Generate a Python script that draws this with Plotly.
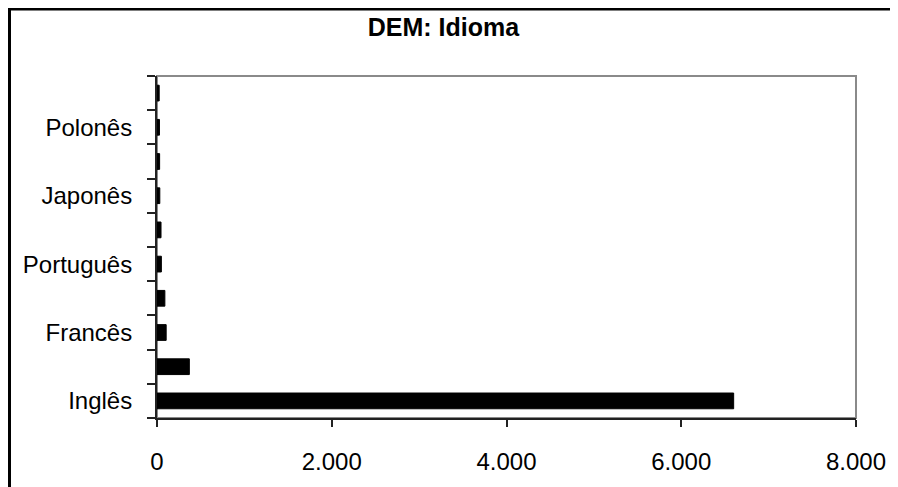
import plotly.graph_objects as go

# categories from bottom to top (unlabeled categories in the original shown as "")
categories = ["Inglês", "", "Francês", "", "Português", "", "Japonês", "", "Polonês", ""]
values = [6600, 370, 105, 90, 50, 46, 32, 30, 28, 25]
x_tick_vals = [0, 2000, 4000, 6000, 8000]
x_tick_text = ["0", "2.000", "4.000", "6.000", "8.000"]

positions = list(range(len(categories)))
label_pos = [p for p, c in zip(positions, categories) if c]
label_txt = [c for c in categories if c]

FONT = "Liberation Sans, Arial, sans-serif"

fig = go.Figure()
fig.add_trace(go.Bar(
    x=values, y=positions, orientation="h",
    width=0.46,
    marker=dict(color="black", line=dict(color="black", width=1)),
    hoverinfo="x",
))

OFF = 8  # page body margin offset
W, H = 898 - OFF, 487 - OFF
L, R, T, B = 157 - OFF, 898 - 856, 76 - OFF, 487 - 418
pw, ph = W - L - R, H - T - B

def px_x(px):
    return (px - OFF - L) / pw

def px_y(py):
    return (H - B - (py - OFF)) / ph

fig.update_layout(
    width=W, height=H,
    margin=dict(l=L, r=R, t=T, b=B, pad=0),
    paper_bgcolor="white", plot_bgcolor="white",
    showlegend=False,
    bargap=0.5,
    title=dict(text="<b>DEM: Idioma</b>", x=(443.5 - OFF) / W, xanchor="center",
               y=(H - (27 - OFF)) / H, yanchor="middle", yref="container",
               font=dict(family=FONT, size=25, color="black")),
    xaxis=dict(
        range=[0, 8000], tickmode="array", tickvals=x_tick_vals, ticktext=x_tick_text,
        showgrid=False, zeroline=False,
        showline=True, linecolor="#222222", linewidth=2,
        ticks="outside", ticklen=7, tickwidth=1.5, tickcolor="#222222",
        ticklabelstandoff=14,
        tickfont=dict(family=FONT, size=24, color="black"),
    ),
    yaxis=dict(
        range=[-0.5, len(categories) - 0.5], tickmode="array",
        tickvals=label_pos, ticktext=label_txt,
        showgrid=False, zeroline=False,
        showline=True, linecolor="#222222", linewidth=2,
        ticks="", ticklabelstandoff=18,
        minor=dict(tickmode="linear", tick0=0.5, dtick=1, ticks="outside",
                   ticklen=8, tickwidth=1.5, tickcolor="#222222", showgrid=False),
        tickfont=dict(family=FONT, size=24, color="black"),
    ),
    shapes=[
        # plot frame (top/right gray)
        dict(type="rect", xref="paper", yref="paper", x0=0, y0=0, x1=1, y1=1,
             line=dict(color="#8a8a8a", width=2), layer="below"),
        # outer chart border: top and left edges (others lie outside the picture)
        dict(type="line", xref="paper", yref="paper",
             x0=px_x(8), y0=px_y(9), x1=px_x(930), y1=px_y(9),
             line=dict(color="black", width=3), layer="above"),
        dict(type="line", xref="paper", yref="paper",
             x0=px_x(9.5), y0=px_y(8), x1=px_x(9.5), y1=px_y(520),
             line=dict(color="black", width=3), layer="above"),
    ],
)

fig.write_html("out.html")
